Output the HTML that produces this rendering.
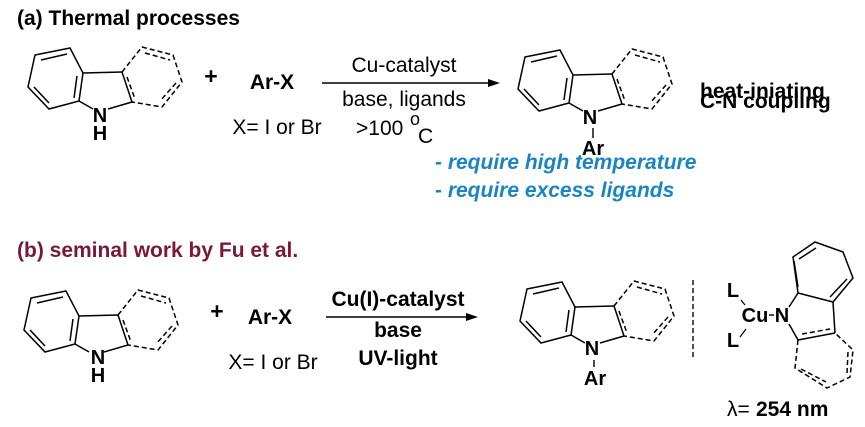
<!DOCTYPE html>
<html><head><meta charset="utf-8"><style>
html,body{margin:0;padding:0;background:#fff;}
svg{display:block;font-family:"Liberation Sans",Arial,sans-serif;}
</style></head><body>
<svg width="865" height="427" viewBox="0 0 865 427" xmlns="http://www.w3.org/2000/svg">
<defs>
<g id="carb" fill="none" stroke="#000" stroke-width="1.5">
  <polygon points="35,55 70,48 83,73 79,101 49,109 28,87"/>
  <line x1="41" y1="60" x2="67" y2="54"/>
  <line x1="77" y1="76" x2="74" y2="98"/>
  <line x1="49" y1="103" x2="34" y2="87"/>
  <line x1="83" y1="73" x2="122" y2="72"/>
  <line x1="79" y1="101" x2="93" y2="109"/>
  <line x1="108" y1="109" x2="132" y2="102"/>
  <line x1="122" y1="72" x2="132" y2="102"/>
  <g stroke-dasharray="5,3">
    <line x1="127" y1="77" x2="135" y2="99"/>
    <polyline points="122,72 142,47 173,55 182,82 162,107 132,102"/>
    <line x1="145" y1="53" x2="170" y2="60"/>
    <line x1="176" y1="83" x2="160" y2="101"/>
  </g>
</g>
</defs>

<text x="17" y="25" font-size="21" font-weight="bold" fill="#000">(a) Thermal processes</text>

<use href="#carb"/>
<text x="100" y="122" font-size="20" font-weight="bold" text-anchor="middle">N</text>
<text x="100" y="140" font-size="20" font-weight="bold" text-anchor="middle">H</text>

<text x="211" y="84" font-size="23" font-weight="bold" text-anchor="middle">+</text>
<text x="272" y="89" font-size="21" font-weight="bold" text-anchor="middle">Ar-X</text>
<text x="277" y="134" font-size="21" text-anchor="middle">X= I or Br</text>

<line x1="322" y1="83" x2="492" y2="83" stroke="#000" stroke-width="1.4"/>
<polygon points="500,83 488,79 488,87" fill="#000"/>
<text x="404" y="72" font-size="21" text-anchor="middle">Cu-catalyst</text>
<text x="404" y="106" font-size="21" text-anchor="middle">base, ligands</text>
<text x="356" y="135" font-size="21">&gt;100</text>
<text x="410" y="125" font-size="18">o</text>
<text x="418" y="143" font-size="21">C</text>

<use href="#carb" transform="translate(490,2)"/>
<text x="590" y="124" font-size="20" font-weight="bold" text-anchor="middle">N</text>
<line x1="593" y1="128" x2="593" y2="138" stroke="#000" stroke-width="1.4"/>
<text x="593" y="155" font-size="20" font-weight="bold" text-anchor="middle">Ar</text>

<text x="700" y="98" font-size="21" font-weight="bold">heat-iniating</text>
<text x="700" y="108" font-size="21" font-weight="bold">C-N coupling</text>

<text x="435" y="169" font-size="21" font-weight="bold" font-style="italic" fill="#1b84c4">- require high temperature</text>
<text x="435" y="197" font-size="21" font-weight="bold" font-style="italic" fill="#1b84c4">- require excess ligands</text>

<text x="17" y="257" font-size="21" font-weight="bold" fill="#7a1838">(b) seminal work by Fu et al.</text>

<use href="#carb" transform="translate(-4,243)"/>
<text x="98" y="364" font-size="20" font-weight="bold" text-anchor="middle">N</text>
<text x="98" y="382" font-size="20" font-weight="bold" text-anchor="middle">H</text>

<text x="217" y="319" font-size="23" font-weight="bold" text-anchor="middle">+</text>
<text x="270" y="324" font-size="21" font-weight="bold" text-anchor="middle">Ar-X</text>
<text x="273" y="369" font-size="21" text-anchor="middle">X= I or Br</text>

<line x1="326" y1="317" x2="470" y2="317" stroke="#000" stroke-width="1.4"/>
<polygon points="478,317 466,313 466,321" fill="#000"/>
<text x="398" y="306" font-size="21" font-weight="bold" text-anchor="middle">Cu(I)-catalyst</text>
<text x="398" y="337" font-size="21" font-weight="bold" text-anchor="middle">base</text>
<text x="398" y="365" font-size="21" font-weight="bold" text-anchor="middle">UV-light</text>

<use href="#carb" transform="translate(492,234)"/>
<text x="592" y="355" font-size="20" font-weight="bold" text-anchor="middle">N</text>
<line x1="594" y1="360" x2="594" y2="367" stroke="#000" stroke-width="1.4"/>
<text x="595" y="385" font-size="20" font-weight="bold" text-anchor="middle">Ar</text>

<line x1="693" y1="280" x2="693" y2="358" stroke="#000" stroke-width="1.4" stroke-dasharray="5,3"/>

<text x="733" y="297" font-size="20" font-weight="bold" text-anchor="middle">L</text>
<line x1="741" y1="300" x2="745" y2="305" stroke="#000" stroke-width="1.2"/>
<text x="755" y="322" font-size="20" font-weight="bold" text-anchor="middle">Cu</text>
<line x1="769" y1="315" x2="774" y2="315" stroke="#000" stroke-width="1.4"/>
<text x="782" y="322" font-size="20" font-weight="bold" text-anchor="middle">N</text>
<text x="733" y="347" font-size="20" font-weight="bold" text-anchor="middle">L</text>
<line x1="740" y1="337" x2="746" y2="329" stroke="#000" stroke-width="1.2"/>
<g fill="none" stroke="#000" stroke-width="1.5">
  <polygon points="798,293 793,257 815,242 843,252 853,278 833,302"/>
  <line x1="799" y1="259" x2="816" y2="248"/>
  <line x1="847" y1="279" x2="830" y2="297"/>
  <line x1="798" y1="287" x2="794" y2="261"/>
  <line x1="789" y1="307" x2="798" y2="293"/>
  <line x1="833" y1="302" x2="835" y2="333"/>
  <line x1="789" y1="324" x2="798" y2="340"/>
  <line x1="798" y1="340" x2="835" y2="333"/>
  <g stroke-dasharray="5,3">
    <line x1="802" y1="334" x2="830" y2="329"/>
    <polyline points="798,340 795,368 827,388 850,377 853,350 835,333"/>
    <line x1="801" y1="369" x2="826" y2="382"/>
    <line x1="847" y1="373" x2="848" y2="352"/>
  </g>
</g>
<text x="727" y="416" font-size="21">λ=</text>
<text x="756" y="416" font-size="21" font-weight="bold">254 nm</text>
</svg>
</body></html>
